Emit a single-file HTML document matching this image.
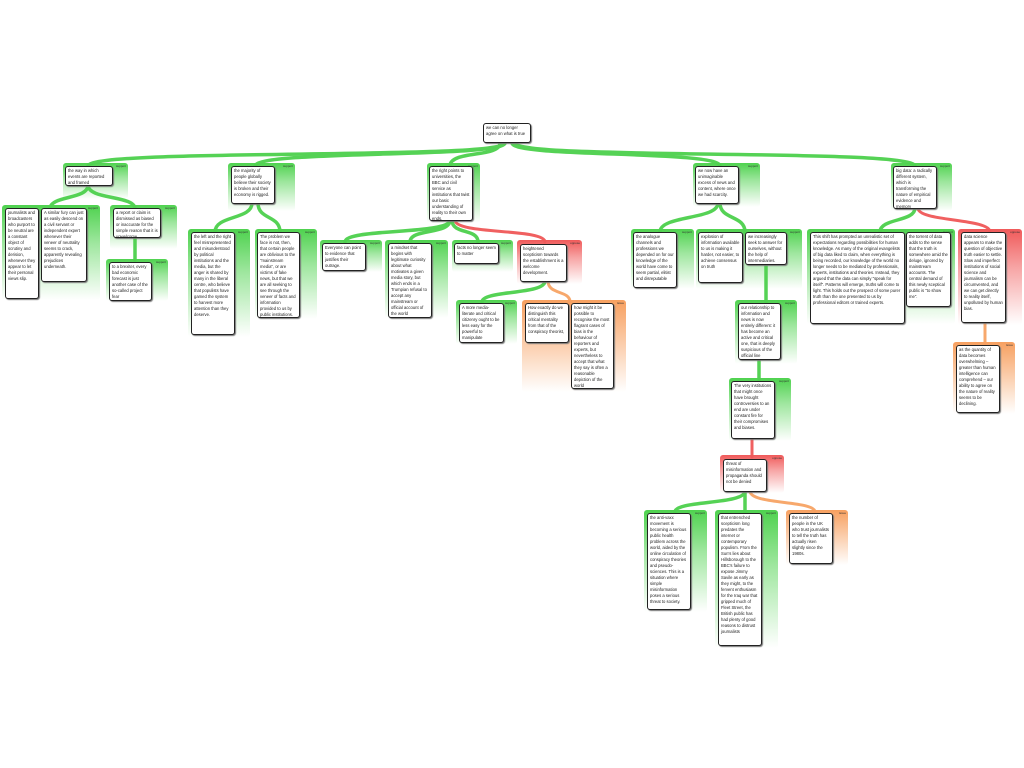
<!DOCTYPE html>
<html><head><meta charset="utf-8"><style>
body{margin:0;width:1024px;height:768px;background:#fff;position:relative;overflow:hidden;font-family:"Liberation Sans",sans-serif}
.p{position:absolute;border-radius:3px}
.g{background:linear-gradient(#4fd24f,rgba(79,210,79,0.55) 40%,rgba(255,255,255,0))}
.r{background:linear-gradient(#f05a5a,rgba(240,90,90,0.55) 40%,rgba(255,255,255,0))}
.o{background:linear-gradient(#f7a060,rgba(247,160,96,0.6) 40%,rgba(255,255,255,0))}
.l{position:absolute;right:2px;top:1px;font-size:3px;color:#333}
.b{position:absolute;background:#fff;border:1.3px solid #222;border-radius:3px;font-size:4.2px;line-height:6px;padding:1px 2px;box-sizing:border-box;color:#222;overflow:hidden;box-shadow:1px 1px 1px #777}
svg{position:absolute;left:0;top:0}
</style></head><body>
<svg width="1024" height="768" fill="none" stroke-linecap="round">
<g stroke="#55d255" stroke-width="3.5">
<path d="M505,143 C505,160 88,148 88,166"/>
<path d="M505,143 C505,158 255,150 255,166"/>
<path d="M500,143 C500,158 450,150 450,166"/>
<path d="M512,143 C512,158 720,150 720,166"/>
<path d="M515,143 C515,160 915,148 915,166"/>
<path d="M88,185 C88,200 50,195 50,209"/>
<path d="M88,185 C88,200 135,195 135,209"/>
<path d="M135,237 L135,260"/>
<path d="M252,203 C252,220 215,215 215,232"/>
<path d="M258,203 C258,220 280,215 280,232"/>
<path d="M450,220 C450,235 345,228 345,242"/>
<path d="M450,220 C450,235 410,228 410,242"/>
<path d="M452,220 C452,235 478,228 478,242"/>
<path d="M545,281 C545,295 482,290 482,302"/>
<path d="M718,203 C718,220 660,215 660,232"/>
<path d="M720,203 C720,220 745,215 745,232"/>
<path d="M766,264 L766,302"/>
<path d="M759,359 L759,380"/>
<path d="M745,491 C745,505 675,500 675,512"/>
<path d="M745,491 L745,512"/>
<path d="M915,208 C915,222 880,218 880,232"/>
</g>
<g stroke="#f06060" stroke-width="3">
<path d="M455,220 C455,235 545,228 545,242"/>
<path d="M752,438 L752,457"/>
<path d="M918,208 C918,222 990,218 990,232"/>
</g>
<g stroke="#f7a86c" stroke-width="3">
<path d="M548,281 C548,295 570,290 570,302"/>
<path d="M750,491 C750,505 815,500 815,512"/>
<path d="M985,322 L985,344"/>
</g>
</svg>

<div class="b" style="left:483px;top:123px;width:48px;height:20px">we can no longer agree on what is true</div>

<div class="p g" style="left:63px;top:163px;width:65px;height:36px"><span class="l">support</span></div>
<div class="b" style="left:65px;top:166px;width:48px;height:20px">the way in which events are reported and framed</div>

<div class="p g" style="left:228px;top:163px;width:67px;height:48px"><span class="l">support</span></div>
<div class="b" style="left:231px;top:166px;width:44px;height:38px">the majority of people globally believe their society is broken and their economy is rigged.</div>

<div class="p g" style="left:427px;top:163px;width:53px;height:60px"><span class="l">support</span></div>
<div class="b" style="left:429px;top:166px;width:44px;height:55px">the right points to universities, the BBC and civil service as institutions that twist our basic understanding of reality to their own ends.</div>

<div class="p g" style="left:693px;top:163px;width:67px;height:44px"><span class="l">support</span></div>
<div class="b" style="left:695px;top:166px;width:44px;height:38px">we now have an unimaginable excess of news and content, where once we had scarcity.</div>

<div class="p g" style="left:891px;top:163px;width:61px;height:48px"><span class="l">support</span></div>
<div class="b" style="left:893px;top:166px;width:44px;height:43px">big data: a radically different system, which is transforming the nature of empirical evidence and memory</div>

<div class="p g" style="left:2px;top:205px;width:98px;height:95px"><span class="l">support</span></div>
<div class="b" style="left:5px;top:208px;width:34px;height:91px">journalists and broadcasters who purport to be neutral are a constant object of scrutiny and derision, whenever they appear to let their personal views slip.</div>
<div class="b" style="left:41px;top:208px;width:46px;height:74px">A similar fury can just as easily descend on a civil servant or independent expert whenever their veneer of neutrality seems to crack, apparently revealing prejudices underneath.</div>

<div class="p g" style="left:110px;top:205px;width:67px;height:44px"><span class="l">support</span></div>
<div class="b" style="left:113px;top:208px;width:48px;height:30px">a report or claim is dismissed as biased or inaccurate for the simple reason that it is unwelcome.</div>

<div class="p g" style="left:106px;top:259px;width:62px;height:42px"><span class="l">support</span></div>
<div class="b" style="left:109px;top:262px;width:43px;height:39px">to a brexiter, every bad economic forecast is just another case of the so-called project fear</div>

<div class="p g" style="left:188px;top:229px;width:62px;height:108px"><span class="l">support</span></div>
<div class="b" style="left:191px;top:232px;width:44px;height:103px">the left and the right feel misrepresented and misunderstood by political institutions and the media, but the anger is shared by many in the liberal centre, who believe that populists have gamed the system to harvest more attention than they deserve.</div>

<div class="p g" style="left:255px;top:229px;width:62px;height:90px"><span class="l">support</span></div>
<div class="b" style="left:257px;top:232px;width:43px;height:86px">The problem we face is not, then, that certain people are oblivious to the "mainstream media", or are victims of fake news, but that we are all seeking to see through the veneer of facts and information provided to us by public institutions.</div>

<div class="p g" style="left:320px;top:240px;width:62px;height:32px"><span class="l">support</span></div>
<div class="b" style="left:322px;top:243px;width:44px;height:28px">Everyone can point to evidence that justifies their outrage.</div>

<div class="p g" style="left:385px;top:240px;width:63px;height:78px"><span class="l">support</span></div>
<div class="b" style="left:388px;top:243px;width:44px;height:75px">a mindset that begins with legitimate curiosity about what motivates a given media story, but which ends in a Trumpian refusal to accept any mainstream or official account of the world</div>

<div class="p g" style="left:452px;top:240px;width:61px;height:32px"><span class="l">support</span></div>
<div class="b" style="left:454px;top:243px;width:45px;height:21px">facts no longer seem to matter</div>

<div class="p r" style="left:517px;top:240px;width:65px;height:44px"><span class="l">oppose</span></div>
<div class="b" style="left:520px;top:244px;width:47px;height:38px">heightened scepticism towards the establishment is a welcome development.</div>

<div class="p g" style="left:456px;top:300px;width:61px;height:44px"><span class="l">support</span></div>
<div class="b" style="left:459px;top:303px;width:45px;height:40px">A more media-literate and critical citizenry ought to be less easy for the powerful to manipulate</div>

<div class="p o" style="left:522px;top:300px;width:104px;height:92px"><span class="l">issue</span></div>
<div class="b" style="left:525px;top:303px;width:44px;height:40px">How exactly do we distinguish this critical mentality from that of the conspiracy theorist,</div>
<div class="b" style="left:571px;top:303px;width:43px;height:86px">how might it be possible to recognise the most flagrant cases of bias in the behaviour of reporters and experts, but nevertheless to accept that what they say is often a reasonable depiction of the world</div>

<div class="p g" style="left:631px;top:229px;width:63px;height:60px"><span class="l">support</span></div>
<div class="b" style="left:633px;top:232px;width:44px;height:56px">the analogue channels and professions we depended on for our knowledge of the world have come to seem partial, elitist and disreputable</div>

<div class="p g" style="left:696px;top:229px;width:106px;height:60px"><span class="l">support</span></div>
<div class="b" style="left:698px;top:232px;width:45px;height:51px">explosion of information available to us is making it harder, not easier, to achieve consensus on truth</div>
<div class="b" style="left:745px;top:232px;width:42px;height:33px">we increasingly seek to answer for ourselves, without the help of intermediaries.</div>

<div class="p g" style="left:735px;top:300px;width:62px;height:64px"><span class="l">support</span></div>
<div class="b" style="left:738px;top:303px;width:43px;height:57px">our relationship to information and news is now entirely different: it has become an active and critical one, that is deeply suspicious of the official line</div>

<div class="p g" style="left:729px;top:378px;width:62px;height:63px"><span class="l">support</span></div>
<div class="b" style="left:731px;top:381px;width:44px;height:58px">The very institutions that might once have brought controversies to an end are under constant fire for their compromises and biases.</div>

<div class="p r" style="left:720px;top:455px;width:64px;height:38px"><span class="l">oppose</span></div>
<div class="b" style="left:723px;top:459px;width:44px;height:33px">threat of misinformation and propaganda should not be denied</div>

<div class="p g" style="left:644px;top:510px;width:63px;height:102px"><span class="l">support</span></div>
<div class="b" style="left:647px;top:513px;width:44px;height:97px">the anti-vaxx movement is becoming a serious public health problem across the world, aided by the online circulation of conspiracy theories and pseudo-sciences. This is a situation where simple misinformation poses a serious threat to society.</div>

<div class="p g" style="left:715px;top:510px;width:63px;height:138px"><span class="l">support</span></div>
<div class="b" style="left:718px;top:513px;width:44px;height:133px">that entrenched scepticism long predates the internet or contemporary populism. From the Sun's lies about Hillsborough to the BBC's failure to expose Jimmy Savile as early as they might, to the fervent enthusiasm for the Iraq war that gripped much of Fleet Street, the British public has had plenty of good reasons to distrust journalists</div>

<div class="p o" style="left:786px;top:510px;width:62px;height:55px"><span class="l">issue</span></div>
<div class="b" style="left:789px;top:513px;width:44px;height:51px">the number of people in the UK who trust journalists to tell the truth has actually risen slightly since the 1980s.</div>

<div class="p g" style="left:807px;top:229px;width:148px;height:95px"><span class="l">support</span></div>
<div class="b" style="left:810px;top:232px;width:95px;height:92px">This shift has prompted an unrealistic set of expectations regarding possibilities for human knowledge. As many of the original evangelists of big data liked to claim, when everything is being recorded, our knowledge of the world no longer needs to be mediated by professionals, experts, institutions and theories. Instead, they argued that the data can simply "speak for itself". Patterns will emerge, truths will come to light. This holds out the prospect of some purer truth than the one presented to us by professional editors or trained experts.</div>
<div class="b" style="left:906px;top:232px;width:45px;height:75px">the torrent of data adds to the sense that the truth is somewhere amid the deluge, ignored by mainstream accounts. The central demand of this newly sceptical public is "to show me".</div>

<div class="p r" style="left:958px;top:229px;width:64px;height:96px"><span class="l">oppose</span></div>
<div class="b" style="left:961px;top:232px;width:45px;height:91px">data science appears to make the question of objective truth easier to settle. Slow and imperfect institutions of social science and journalism can be circumvented, and we can get directly to reality itself, unpolluted by human bias.</div>

<div class="p o" style="left:953px;top:342px;width:62px;height:72px"><span class="l">issue</span></div>
<div class="b" style="left:956px;top:345px;width:44px;height:68px">as the quantity of data becomes overwhelming – greater than human intelligence can comprehend – our ability to agree on the nature of reality seems to be declining.</div>
</body></html>
